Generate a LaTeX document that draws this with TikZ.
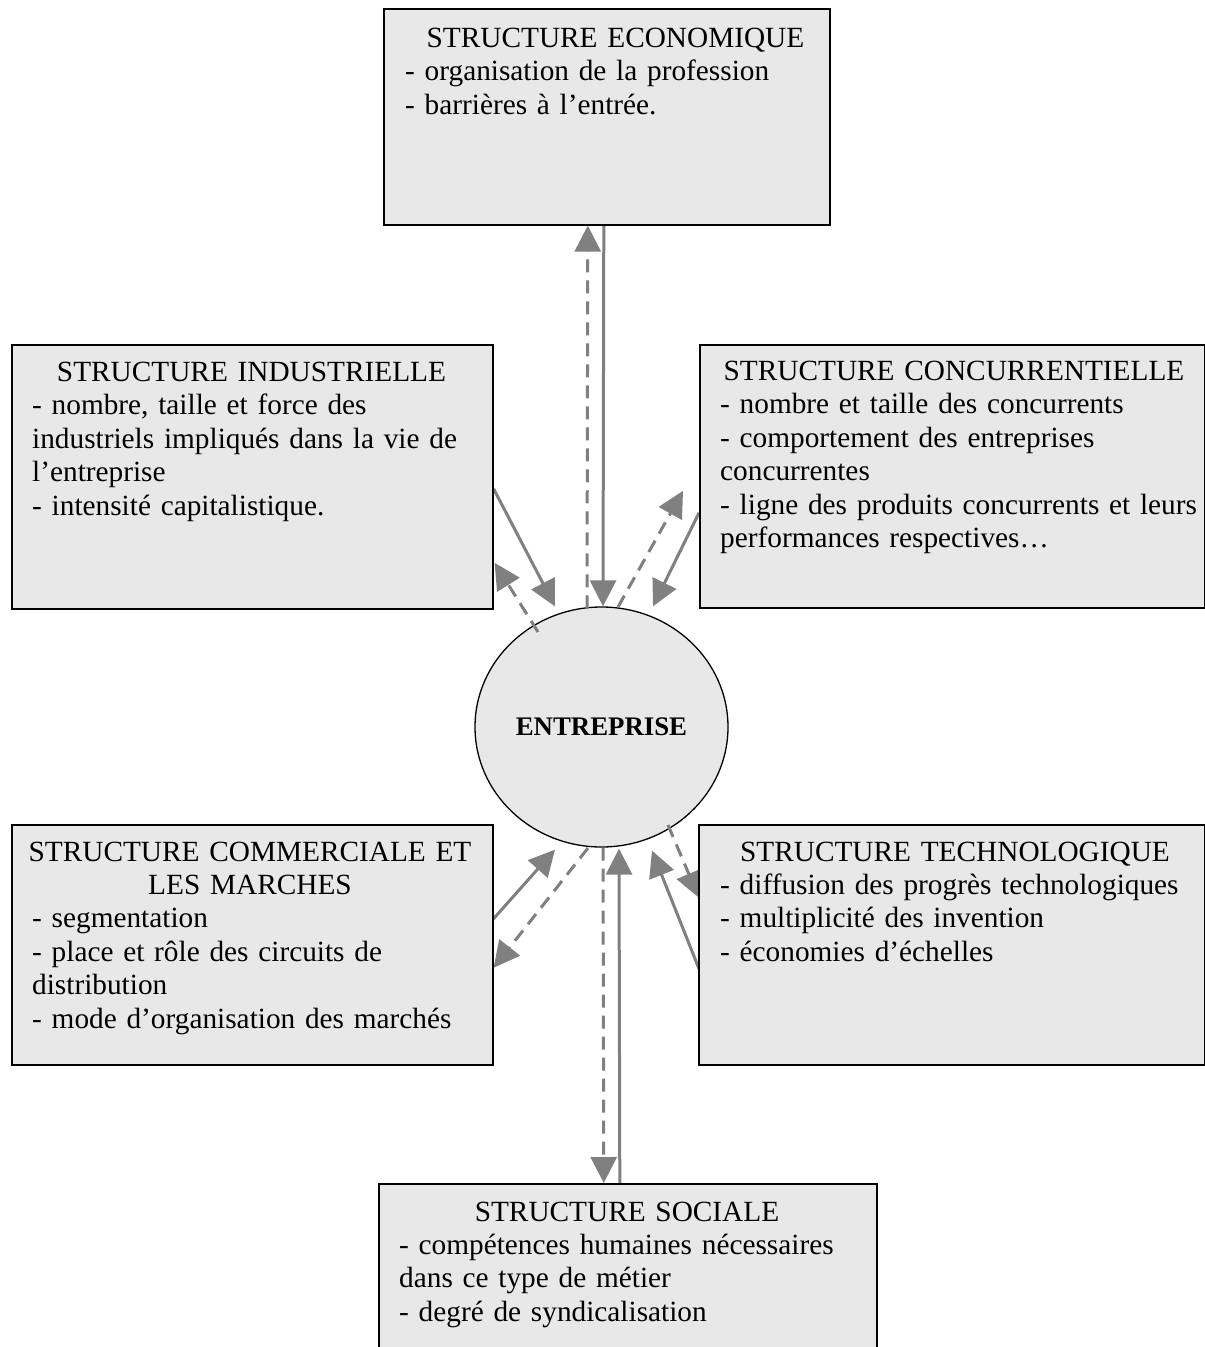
\documentclass[tikz,border=0pt]{standalone}
\usepackage{fontspec}
\setmainfont{Liberation Serif}
\usetikzlibrary{arrows.meta,calc,shapes.geometric}
\definecolor{boxfill}{HTML}{E8E8E8}
\definecolor{arrgray}{HTML}{808080}
\pgfdeclarelayer{circlayer}
\pgfdeclarelayer{arrlayer}
\pgfsetlayers{circlayer,arrlayer,main}
\begin{document}
\begin{tikzpicture}[x=1pt,y=-1pt,
  box/.style={draw=black, line width=1.6pt, fill=boxfill, rectangle, inner sep=0pt, anchor=north west},
  ttl/.style={font=\fontsize{29.3}{33.5}\selectfont, align=center, anchor=base, inner sep=0pt},
  body/.style={font=\fontsize{29.3}{33.5}\selectfont, text width=500pt, align=left, anchor=base west, inner sep=0pt},
  link/.style={draw=arrgray, line width=3pt, -{Triangle[length=26pt,width=26pt]}},
  dlink/.style={link, dash pattern=on 13pt off 8pt}]
\useasboundingbox (0,0) rectangle (1205,1347);

\begin{pgfonlayer}{circlayer}
\node[ellipse, draw=black, line width=1.3pt, fill=boxfill, minimum width=253pt, minimum height=240pt, inner sep=0pt,
  font=\fontsize{26.8}{30}\selectfont\bfseries] (ent) at (601.5,727) {ENTREPRISE};
\end{pgfonlayer}

% boxes
\node[box, minimum width=446pt, minimum height=216pt] (eco) at (383,8) {};
\node[box, minimum width=481pt, minimum height=264pt] (ind) at (11,344) {};
\node[box, minimum width=504.5pt, minimum height=263pt] (con) at (699,344) {};
\node[box, minimum width=481pt, minimum height=240pt] (com) at (11,824) {};
\node[box, minimum width=505.5pt, minimum height=240pt] (tec) at (698,824) {};
\node[box, minimum width=498pt, minimum height=175pt] (soc) at (378,1183) {};

% texts
\node[ttl, text width=446pt] (ecot) at (615.5,47) {STRUCTURE ECONOMIQUE};
\node[body] (ecob) at (405,80.5) {- organisation de la profession\\- barrières à l’entrée.};

\node[ttl, text width=481pt] (indt) at (251.5,381) {STRUCTURE INDUSTRIELLE};
\node[body] (indb) at (32,414.5) {- nombre, taille et force des\\industriels impliqués dans la vie de\\l’entreprise\\- intensité capitalistique.};

\node[ttl, text width=504pt] (cont) at (954,380) {STRUCTURE CONCURRENTIELLE};
\node[body] (conb) at (720,413.5) {- nombre et taille des concurrents\\- comportement des entreprises\\concurrentes\\- ligne des produits concurrents et leurs\\performances respectives…};

\node[ttl, text width=481pt] (comt) at (250,861) {STRUCTURE COMMERCIALE ET\\LES MARCHES};
\node[body] (comb) at (32,927.8) {- segmentation\\- place et rôle des circuits de\\distribution\\- mode d’organisation des marchés};

\node[ttl, text width=505pt] (tect) at (955,861) {STRUCTURE TECHNOLOGIQUE};
\node[body] (tecb) at (720,894.4) {- diffusion des progrès technologiques\\- multiplicité des invention\\- économies d’échelles};

\node[ttl, text width=498pt] (soct) at (627,1221) {STRUCTURE SOCIALE};
\node[body] (socb) at (399,1254.4) {- compétences humaines nécessaires\\dans ce type de métier\\- degré de syndicalisation};

% connectors
\begin{pgfonlayer}{arrlayer}
% economique
\draw[dlink] ($(ent.north)+(-14.5,2)$) -- ($(eco.south)+(-19,0)$);
\draw[link] ($(eco.south)+(-3,0)$) -- ($(ent.north)+(1.5,0)$);
% industrielle
\draw[link] ($(ind.east)+(0,12)$) -- ($(ent.north)+(-46.5,0)$);
\draw[dlink] ($(ent.center)+(-63.5,-95)$) -- ($(ind.east)+(1,86)$);
% concurrentielle
\draw[dlink] ($(ent.center)+(16.5,-120)$) -- ($(con.west)+(-16,14.5)$);
\draw[link] ($(con.west)+(0,36.5)$) -- ($(ent.north)+(51.5,0)$);
% commerciale
\draw[link] ($(com.east)+(-1,-25)$) -- ($(ent.south)+(-46.5,2)$);
\draw[dlink] ($(ent.center)+(-13.5,121)$) -- ($(com.east)+(0,23)$);
% sociale
\draw[dlink] ($(ent.south)+(1.5,0)$) -- ($(soc.north)+(-24,0)$);
\draw[link] ($(soc.north)+(-8,0)$) -- ($(ent.south)+(17.5,1)$);
% technologique
\draw[dlink] ($(ent.center)+(66.5,98)$) -- ($(tec.west)+(1,-47)$);
\draw[link] ($(tec.west)+(1,24)$) -- ($(ent.south)+(50.5,3)$);
\end{pgfonlayer}
\end{tikzpicture}
\end{document}
